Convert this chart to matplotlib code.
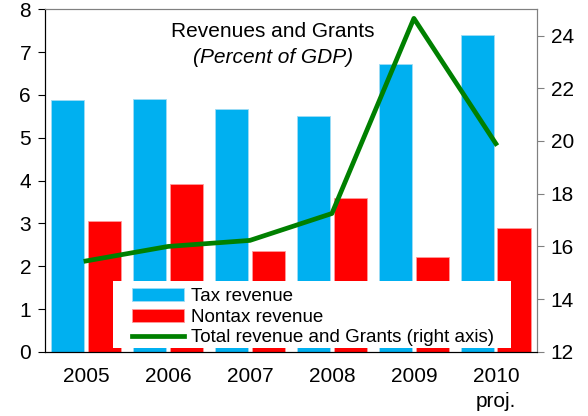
import matplotlib.pyplot as plt
from matplotlib.patches import Rectangle
import numpy as np

plt.rcParams['font.family'] = ['Liberation Sans', 'DejaVu Sans']

years = ['2005', '2006', '2007', '2008', '2009', '2010\nproj.']
tax = [5.88, 5.91, 5.66, 5.51, 6.72, 7.39]
nontax = [3.05, 3.92, 2.35, 3.59, 2.22, 2.90]
total = [15.45, 16.0, 16.23, 17.25, 24.65, 19.9]

fig = plt.figure(figsize=(5.88, 4.16), dpi=100)
ax = fig.add_axes([0.0765, 0.154, 0.8365, 0.824])
ax2 = ax.twinx()

x = np.arange(len(years))
w = 0.41
b1 = ax.bar(x - 0.225, tax, w, color='#00B0F0', edgecolor='#9fdcf5', linewidth=0.6, label='Tax revenue')
b2 = ax.bar(x + 0.225, nontax, w, color='#FF0000', edgecolor='#ff9a9a', linewidth=0.6, label='Nontax revenue')
l1, = ax2.plot(x, total, color='#008000', lw=3.4, label='Total revenue and Grants (right axis)')

ax.set_xlim(-0.5, 5.5)
ax.set_ylim(0, 8)
ax2.set_ylim(12, 25)
ax.set_yticks(range(0, 9))
ax2.set_yticks(range(12, 25, 2))
ax.set_xticks(x)
ax.set_xticklabels(years, linespacing=1.4)

ax.tick_params(axis='x', length=0, labelsize=15, pad=11)
ax.tick_params(axis='y', labelsize=15, length=5, direction='out', pad=5)
ax2.tick_params(axis='y', labelsize=15, length=5, direction='out', color='#808080', pad=5)

for a in (ax, ax2):
    a.spines['top'].set_color('#808080')
    a.spines['right'].set_color('#808080')
    a.spines['left'].set_color('black')
    a.spines['bottom'].set_color('black')

ax.text(0.463, 0.936, 'Revenues and Grants', transform=ax.transAxes, ha='center', va='center', fontsize=15)
ax.text(0.463, 0.86, '(Percent of GDP)', transform=ax.transAxes, ha='center', va='center', fontsize=15, style='italic')

# white box behind the legend
ax2.add_patch(Rectangle((0.138, 0.012), 0.809, 0.195, transform=ax2.transAxes,
                        facecolor='white', edgecolor='none', zorder=4))

leg = ax2.legend([b1, b2, l1], [b1.get_label(), b2.get_label(), l1.get_label()],
                 loc='lower left', bbox_to_anchor=(0.169, 0.006), fontsize=13.5,
                 frameon=False, handlelength=2.8, handletextpad=0.33, labelspacing=0.18,
                 borderpad=0.2, borderaxespad=0)
leg.set_zorder(5)

fig.savefig('out.png', dpi=100)
